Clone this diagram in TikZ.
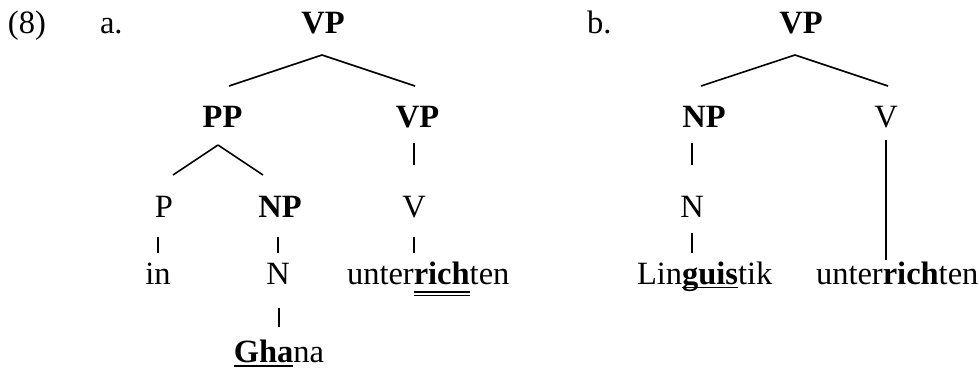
\documentclass[tikz,border=0pt]{standalone}
\usepackage{fontspec}
\setmainfont{Liberation Serif}
\newcommand{\ulsingle}[1]{\vtop{\hbox{\smash{#1}}\kern2.5pt\hrule height 1.6pt}}
\newcommand{\uldouble}[1]{\vtop{\hbox{\smash{#1}}\kern7pt\hrule height 1.6pt\kern2pt\hrule height 1.6pt}}
\begin{document}
\begin{tikzpicture}[x=1pt,y=-1pt,
  every node/.style={inner sep=0pt, outer sep=0pt, anchor=base, text height=21pt, text depth=0pt,
    font=\fontsize{32.5}{38}\selectfont},
  cat/.style={font=\fontsize{32.5}{38}\selectfont\bfseries},
  word/.style={anchor=base west},
  branch/.style={line width=1.6pt},
  bar/.style={line width=1.6pt}]
\useasboundingbox (0,0) rectangle (979,370);
% labels
\node[anchor=base west] (l8) at (8,33.5) {(8)};
\node[anchor=base west] (la) at (100,33.5) {a.};
\node[anchor=base west] (lb) at (587,33.5) {b.};
% tree a
\node[cat] (vpA) at (323,33.5) {VP};
\node[cat] (ppA) at (222.5,127) {PP};
\node[cat] (vp2A) at (417.5,127) {VP};
\node (pA) at (164,217) {P};
\node[cat] (npA) at (280,217) {NP};
\node (vA) at (414,217) {V};
\node (inA) at (158,284) {in};
\node (nA) at (278,284) {N};
\node[word] (unterA) at (347,284) {unter\uldouble{\textbf{rich}}ten};
\node (ghana) at (279,362.5) {\ulsingle{\textbf{Gha}}na};
% tree b
\node[cat] (vpB) at (801,33.5) {VP};
\node[cat] (npB) at (704,127) {NP};
\node (vB) at (886,127) {V};
\node (nB) at (692,217) {N};
\node[word] (lingB) at (637,284) {Lin\ulsingle{\textbf{guis}}tik};
\node[word] (unterB) at (816,284) {unter\textbf{rich}ten};
% connectors a
\draw[branch] ([xshift=-1pt,yshift=-21.5pt]vpA.south) -- ([xshift=6.5pt,yshift=20pt]ppA.north);
\draw[branch] ([xshift=-1pt,yshift=-21.5pt]vpA.south) -- ([xshift=-2.5pt,yshift=20pt]vp2A.north);
\draw[branch] ([xshift=-4.5pt,yshift=-18pt]ppA.south) -- ([xshift=9pt,yshift=21pt]pA.north);
\draw[branch] ([xshift=-4.5pt,yshift=-18pt]ppA.south) -- ([xshift=-17pt,yshift=21pt]npA.north);
\draw[bar, shorten <=16pt, shorten >=31pt] (vA.north |- vp2A.south) -- (vA.north);
\draw[bar, shorten <=20pt, shorten >=10pt] (inA.north |- pA.south) -- (inA.north);
\draw[bar, shorten <=20pt, shorten >=10pt] (nA.north |- npA.south) -- (nA.north);
\draw[bar, shorten <=20pt, shorten >=10pt] (vA.south) -- (vA.south |- unterA.north);
\draw[bar, shorten <=24pt, shorten >=15pt] (ghana.north |- nA.south) -- (ghana.north);
% connectors b
\draw[branch] ([xshift=-6pt,yshift=-21.5pt]vpB.south) -- ([xshift=-3pt,yshift=20pt]npB.north);
\draw[branch] ([xshift=-6pt,yshift=-21.5pt]vpB.south) -- ([xshift=2pt,yshift=20pt]vB.north);
\draw[bar, shorten <=16pt, shorten >=31pt] (nB.north |- npB.south) -- (nB.north);
\draw[bar, shorten <=16pt, shorten >=10pt] (nB.south) -- (nB.south |- lingB.north);
\draw[bar, shorten <=13pt, shorten >=3pt] (vB.south) -- (vB.south |- unterB.north);
\end{tikzpicture}
\end{document}
